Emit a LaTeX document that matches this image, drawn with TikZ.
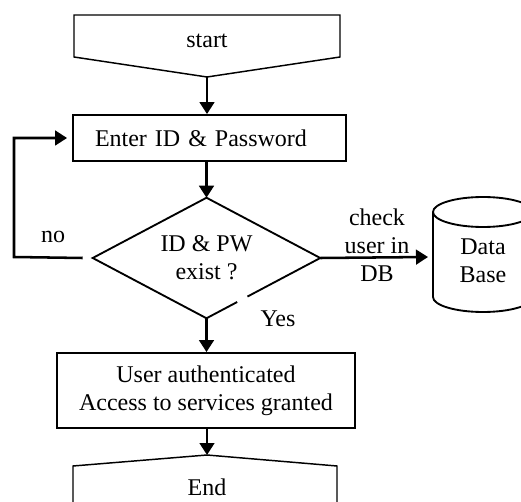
\documentclass[tikz,border=0pt]{standalone}
\usepackage{fontspec}
\setmainfont{Liberation Serif}
\usetikzlibrary{arrows.meta,calc,shapes.geometric}
\begin{document}
\begin{tikzpicture}[x=0.75pt,y=-0.75pt,
  font=\fontsize{18}{21}\selectfont,
  shapeline/.style={line width=1.1pt},
  boxline/.style={line width=1.4pt},
  arr/.style={line width=1.9pt,-{Triangle[length=9pt,width=11pt]}},
  txt/.style={inner sep=0pt, align=center}]
\useasboundingbox (0,0) rectangle (521,502);

% start
\node[txt] (start) at (207,41) {start};
\draw[shapeline] (74,57) -- (74,15) -- (340,15) -- (340,57) -- (207,77) -- cycle;
\coordinate (startpt) at (207,77);

% enter
\node[draw, boxline, minimum width=204.75pt, minimum height=34.5pt,
      text width=171.75pt, inner xsep=16.5pt, inner ysep=0pt, align=left]
      (enter) at (209.5,138) {Enter ID \& Password};

% decision
\node[diamond, minimum width=170.25pt, minimum height=90pt, inner sep=0pt,
      aspect=1.9, align=center] (dia) at (206.5,258) {ID \& PW\\exist ?};
\draw[boxline] ($(dia.east)!0.64!(dia.south)$) -- (dia.east) -- (dia.north)
      -- (dia.west) -- (dia.south) -- ($(dia.east)!0.73!(dia.south)$);

% database
\node[txt] (db) at (483,261) {Data\\Base};
\draw[boxline] (433,212) -- (433,297)
  .. controls (433,305.3) and (455.4,312) .. (483,312)
  .. controls (510.6,312) and (533,305.3) .. (533,297) -- (533,212);
\draw[boxline] (433,212) .. controls (433,203.7) and (455.4,197) .. (483,197)
  .. controls (510.6,197) and (533,203.7) .. (533,212)
  .. controls (533,220.3) and (510.6,227) .. (483,227)
  .. controls (455.4,227) and (433,220.3) .. (433,212) -- cycle;
\coordinate (dbin) at (428,257);

% user box
\node[draw, boxline, minimum width=223.5pt, minimum height=56.25pt,
      align=center, inner sep=0pt] (user) at (206,390.5)
      {User authenticated\\Access to services granted};

% end
\node[txt] (endn) at (207,487) {End};
\draw[shapeline] (73,520) -- (73,466) -- (207,455) -- (337,466) -- (337,520);
\coordinate (endpt) at (207,455);

% labels
\node[txt] (no) at (53,237) {no};
\node[txt] (yes) at (278,319) {Yes};
\node[txt] (chk) at (377,245) {check\\user in\\DB};

% connectors
\draw[arr] (startpt) -- (startpt |- enter.north);
\draw[arr] (enter.south -| dia.north) -- (dia.north);
\draw[arr] (dia.south) -- (dia.south |- user.north);
\draw[arr] (user.south -| endpt) -- (endpt);
\draw[arr] (dia.east) -- (dbin);
\coordinate (loopc) at (14,257);
\draw[arr, shorten >=3.75pt] ([xshift=-7.5pt]dia.west) -- (loopc) |- (enter.west);
\end{tikzpicture}
\end{document}
